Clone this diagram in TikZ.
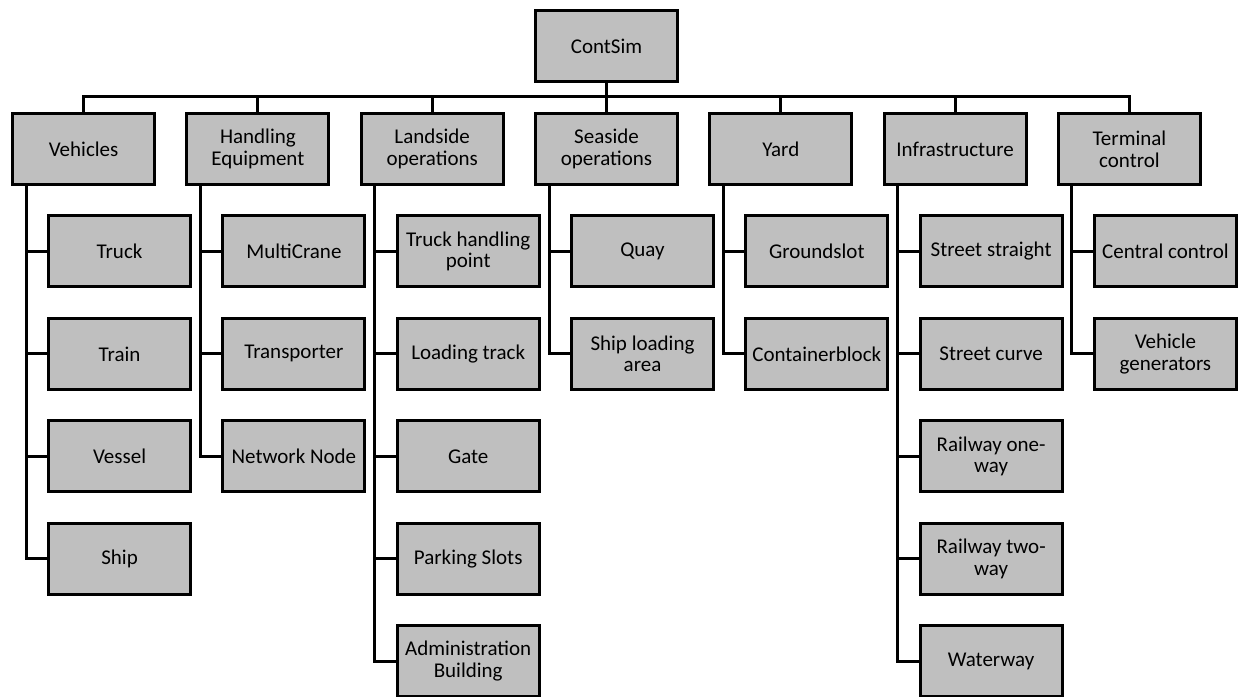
\documentclass[tikz,border=0pt]{standalone}
\usepackage{fontspec}
\setmainfont{Carlito}
\usetikzlibrary{positioning,calc}
\definecolor{boxgray}{RGB}{191,191,191}

\begin{document}
\begin{tikzpicture}[
        x=1pt, y=1pt,
        node distance=28.4pt and 29.3pt,
        box/.style={rectangle, draw=black, fill=boxgray, line width=3pt, minimum width=142pt, minimum height=71pt, align=center, inner sep=2pt, font=\fontsize{21}{21.7}\selectfont},
        link/.style={line width=3pt}
    ]
    \useasboundingbox (0,0) rectangle (1238,696);

    \node[box] (root) at (606.5,649.5) {ContSim};

    % first level
    \node[box, below=28.5pt of root] (sea) {Seaside\\operations};
    \node[box, left=of sea] (land) {Landside\\operations};
    \node[box, left=of land] (hand) {Handling\\Equipment};
    \node[box, left=of hand] (veh) {Vehicles};
    \node[box, right=of sea] (yard) {Yard};
    \node[box, right=of yard] (infra) {Infrastructure};
    \node[box, right=of infra] (term) {Terminal\\control};

    % vehicles
    \node[box, below right=28.5pt and 36pt of veh.south west] (truck) {Truck};
    \node[box, below=of truck] (train) {Train};
    \node[box, below=of train] (vessel) {Vessel};
    \node[box, below=of vessel] (ship) {Ship};

    % handling equipment
    \node[box, below right=28.5pt and 36pt of hand.south west] (mcrane) {MultiCrane};
    \node[box, below=of mcrane] (transp) {Transporter};
    \node[box, below=of transp] (netnode) {Network Node};

    % landside operations
    \node[box, below right=28.5pt and 36pt of land.south west] (thp) {Truck handling\\point};
    \node[box, below=of thp] (loadtr) {Loading track};
    \node[box, below=of loadtr] (gate) {Gate};
    \node[box, below=of gate] (parking) {Parking Slots};
    \node[box, below=of parking] (admin) {Administration\\Building};

    % seaside operations
    \node[box, below right=28.5pt and 36pt of sea.south west] (quay) {Quay};
    \node[box, below=of quay] (shipload) {Ship loading\\area};

    % yard
    \node[box, below right=28.5pt and 36pt of yard.south west] (gslot) {Groundslot};
    \node[box, below=of gslot] (cblock) {Containerblock};

    % infrastructure
    \node[box, below right=28.5pt and 36pt of infra.south west] (strstr) {Street straight};
    \node[box, below=of strstr] (strcur) {Street curve};
    \node[box, below=of strcur] (rail1) {Railway one-\\way};
    \node[box, below=of rail1] (rail2) {Railway two-\\way};
    \node[box, below=of rail2] (water) {Waterway};

    % terminal control
    \node[box, below right=28.5pt and 36pt of term.south west] (central) {Central control};
    \node[box, below=of central] (vgen) {Vehicle\\generators};

    % bus to first level
    \foreach \n in {veh,hand,land,sea,yard,infra,term}
        \draw[link] (root.south) -- ++(0,-13.5) -| (\n.north);

    % trunks to children
    \foreach \p/\kids in {veh/{truck,train,vessel,ship}, hand/{mcrane,transp,netnode}, land/{thp,loadtr,gate,parking,admin}, sea/{quay,shipload}, yard/{gslot,cblock}, infra/{strstr,strcur,rail1,rail2,water}, term/{central,vgen}} {
        \coordinate (\p T) at ($(\p.south west)+(15,0)$);
        \foreach \c in \kids
            \draw[link] (\p T) |- (\c.west);
    }
\end{tikzpicture}
\end{document}
